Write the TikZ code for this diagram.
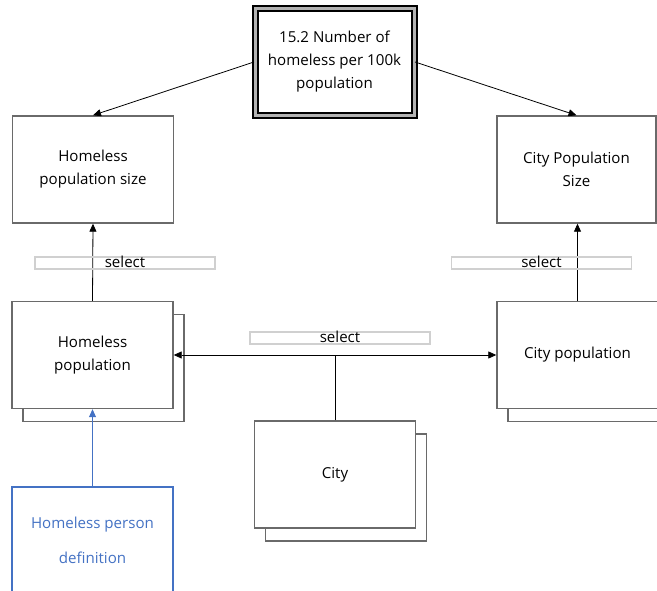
\documentclass[tikz,border=0pt]{standalone}
\usepackage{fontspec}
\setmainfont{Open Sans}
\usetikzlibrary{arrows.meta,shadows}
\definecolor{boxgray}{HTML}{6A6A6A}
\definecolor{selgray}{HTML}{D0D0D0}
\definecolor{defblue}{HTML}{4472C4}
\tikzset{
  every node/.style={font=\fontsize{15.1}{23}\selectfont},
  entity/.style={draw=boxgray, line width=1.4pt, fill=white, minimum width=161pt, minimum height=107pt, inner sep=2pt, align=center},
  stacked/.style={entity, copy shadow={shadow xshift=11pt, shadow yshift=-13pt, draw=boxgray, fill=white, line width=1.4pt}},
  selbox/.style={draw=selgray, line width=1.2pt, minimum width=180pt, inner sep=1.5pt, text height=9pt, text depth=0pt},
  conn/.style={draw=black, line width=0.8pt, -{Triangle[length=8pt,width=7pt]}},
  bothconn/.style={draw=black, line width=0.8pt, {Triangle[length=8pt,width=7pt]}-{Triangle[length=8pt,width=7pt]}},
  plain/.style={draw=black, line width=0.8pt}
}
\begin{document}
\begin{tikzpicture}[x=1pt,y=-1pt]
\useasboundingbox (0,0) rectangle (657,591);
\clip (0,0) rectangle (657,591);

% top metric box (triple border)
\node[draw=black, line width=2pt, double=gray!60, double distance=3pt, fill=white,
      minimum width=159pt, minimum height=106.5pt, inner sep=2pt, align=center]
      (top) at (334.5,62) {15.2 Number of\\homeless per 100k\\population};

\node[entity] (hps) at (93,169.5) {Homeless\\population size};
\node[entity, minimum width=159pt] (cps) at (576.5,169.5) {City Population\\Size};

\node[stacked] (hp) at (92.5,355) {Homeless\\population};
\node[stacked] (cp) at (577.5,355) {City population};
\node[stacked] (city) at (335,474.5) {City};

\node[entity, draw=defblue, text=defblue, font=\fontsize{15.1}{35}\selectfont] (hpd) at (92.5,540.5) {Homeless person\\definition};

% connectors
\draw[conn] (top.west) -- (hps.north);
\draw[conn] (top.east) -- (cps.north);
\draw[conn] (hp.north) -- (hps.south);
\draw[conn] (cp.north) -- (cp.north |- cps.south);
\draw[bothconn] (hp.east) -- (cp.west);
\coordinate (junc) at (city.north |- hp.east);
\draw[plain] (city.north) -- (junc);
\draw[conn, draw=defblue, color=defblue] (hpd.north) -- (hp.south);

% select labels
\node[selbox] (sel1) at (125,263) {select};
\node[selbox] (sel2) at (541.5,263) {select};
\node[selbox] (sel3) at (340,338) {select};
\end{tikzpicture}
\end{document}
